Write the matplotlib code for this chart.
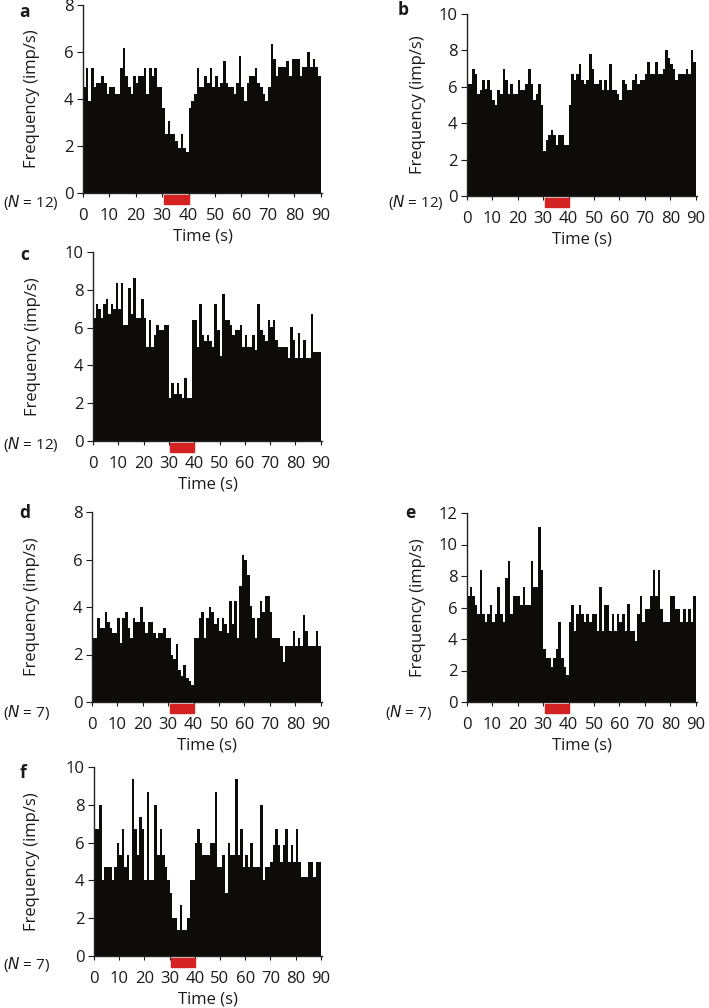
import numpy as np
import matplotlib.pyplot as plt
from matplotlib.patches import Rectangle

plt.rcParams['font.family'] = ['Open Sans', 'DejaVu Sans']

# peri-stimulus histograms, 1 s bins, firing rate in imp/s
bin_width = 1.0
stim_on, stim_off = 30.5, 40.0
time_ticks = list(range(0, 91, 10))

rate_a = [4.5, 5.3, 3.9, 5.3, 4.5, 4.7, 4.7, 5.0, 4.7, 4.2,
          4.5, 4.5, 4.2, 4.2, 5.3, 6.15, 5.0, 4.5, 4.2, 5.0,
          4.7, 5.0, 5.0, 5.3, 4.2, 5.3, 5.0, 5.3, 4.5, 4.5,
          3.6, 2.5, 3.05, 2.5, 2.5, 2.2, 1.9, 2.5, 1.9, 1.75,
          3.6, 3.9, 4.2, 5.3, 4.5, 4.5, 5.0, 4.7, 5.3, 4.5,
          5.0, 4.5, 4.7, 5.6, 4.7, 4.5, 4.5, 4.2, 4.7, 5.85,
          4.5, 3.9, 4.7, 5.0, 5.0, 5.3, 4.7, 4.5, 4.2, 3.9,
          4.5, 6.35, 5.7, 5.0, 5.35, 5.35, 5.35, 5.6, 5.0, 5.7,
          5.7, 5.7, 5.0, 5.35, 5.35, 6.0, 5.35, 5.7, 5.35, 5.0]

rate_b = [6.15, 6.15, 7.0, 6.7, 5.6, 5.85, 6.4, 5.9, 6.4, 5.85,
          5.3, 5.0, 5.85, 5.6, 7.0, 6.4, 5.6, 6.15, 5.6, 5.6,
          6.4, 5.85, 5.85, 6.15, 7.0, 6.15, 5.3, 5.6, 6.15, 5.0,
          2.5, 3.05, 3.35, 3.6, 3.35, 2.8, 3.35, 3.35, 2.8, 2.8,
          5.0, 6.7, 6.4, 6.7, 7.25, 6.4, 6.15, 6.4, 7.8, 7.0,
          6.15, 6.15, 6.4, 5.85, 6.4, 5.85, 7.25, 5.85, 5.85, 5.6,
          5.3, 6.4, 6.15, 5.85, 5.85, 6.4, 6.7, 6.15, 6.4, 6.4,
          6.7, 7.35, 6.7, 6.7, 7.35, 6.7, 6.7, 7.0, 8.0, 7.6,
          7.25, 7.0, 6.4, 6.7, 6.7, 6.7, 7.0, 6.7, 8.0, 7.35]

rate_c = [6.5, 7.25, 7.0, 6.5, 7.25, 7.5, 6.7, 7.25, 7.0, 8.35,
          7.0, 8.35, 6.15, 6.15, 8.1, 6.7, 8.6, 6.5, 6.5, 7.5,
          6.5, 5.0, 6.4, 5.0, 5.6, 6.15, 5.85, 5.85, 6.15, 6.15,
          2.3, 3.05, 2.5, 3.05, 2.5, 2.3, 3.35, 2.3, 2.3, 6.4,
          6.4, 5.0, 7.25, 5.6, 5.3, 5.6, 5.3, 5.0, 7.25, 5.85,
          4.5, 7.8, 6.4, 6.4, 6.15, 5.6, 5.85, 5.85, 6.15, 5.0,
          5.6, 5.0, 5.0, 5.6, 4.8, 7.25, 5.85, 5.6, 5.3, 6.4,
          6.05, 6.4, 5.35, 5.0, 5.0, 5.0, 5.0, 4.4, 6.05, 5.35,
          4.4, 5.7, 4.4, 5.35, 4.4, 4.4, 6.7, 4.7, 4.7, 4.7]

rate_d = [2.7, 2.7, 3.55, 3.1, 3.1, 3.8, 3.35, 3.1, 2.9, 2.9,
          3.55, 2.5, 3.55, 3.8, 3.1, 2.7, 3.55, 3.35, 3.35, 4.0,
          3.35, 2.9, 3.35, 3.35, 2.9, 2.7, 2.9, 2.9, 3.1, 2.7,
          2.7, 2.0, 1.8, 2.45, 1.35, 1.1, 1.55, 1.0, 0.9, 0.7,
          2.7, 2.7, 3.55, 3.8, 2.7, 3.55, 4.0, 3.8, 3.3, 3.55,
          3.0, 3.55, 3.3, 2.9, 4.25, 3.3, 4.25, 2.7, 4.9, 6.2,
          6.0, 5.35, 4.05, 3.55, 2.7, 3.55, 4.25, 3.8, 4.45, 4.45,
          3.8, 2.7, 2.7, 2.7, 2.35, 1.7, 2.35, 2.35, 2.35, 3.0,
          2.35, 2.7, 2.35, 3.65, 3.0, 2.35, 2.35, 2.35, 3.0, 2.35]

rate_e = [6.7, 7.3, 6.7, 6.15, 5.6, 8.4, 5.6, 5.1, 5.6, 6.15,
          5.1, 5.6, 7.3, 5.6, 5.1, 7.85, 8.95, 5.6, 6.7, 6.7,
          6.7, 6.15, 7.3, 6.15, 6.15, 8.95, 7.3, 7.3, 11.1, 8.4,
          3.35, 2.8, 2.8, 2.2, 2.8, 3.35, 5.05, 2.8, 2.2, 1.7,
          5.05, 6.15, 4.5, 5.6, 6.15, 5.6, 5.05, 5.6, 5.05, 5.6,
          5.6, 4.5, 7.3, 4.5, 6.15, 6.15, 4.5, 5.6, 4.5, 5.6,
          5.05, 5.6, 4.5, 6.2, 4.5, 4.5, 3.9, 5.6, 6.7, 5.05,
          5.9, 5.9, 6.7, 8.4, 6.7, 8.4, 5.9, 5.05, 5.05, 5.05,
          6.7, 6.7, 5.9, 5.9, 5.05, 5.9, 5.05, 5.9, 5.05, 6.7]

rate_f = [6.7, 6.7, 8.0, 4.0, 4.7, 4.7, 4.7, 4.0, 4.7, 6.0,
          5.35, 6.7, 4.7, 5.35, 4.0, 9.35, 6.7, 5.35, 7.35, 6.7,
          4.0, 8.7, 4.0, 4.0, 8.0, 5.35, 6.7, 5.35, 4.7, 4.0,
          3.35, 2.0, 2.0, 1.35, 2.7, 1.35, 1.35, 2.0, 4.0, 4.0,
          6.0, 6.7, 6.0, 5.35, 5.35, 5.35, 6.0, 6.0, 8.7, 4.7,
          4.7, 5.35, 3.35, 6.0, 5.35, 5.35, 9.35, 5.35, 6.7, 4.7,
          5.35, 4.7, 6.0, 4.7, 4.7, 4.7, 8.0, 4.0, 4.7, 4.7,
          5.0, 5.85, 6.7, 5.85, 5.0, 5.85, 6.7, 5.0, 5.85, 5.0,
          6.7, 5.0, 4.2, 4.2, 4.2, 5.0, 5.0, 4.2, 5.0, 5.0]

letters = ['a', 'b', 'c', 'd', 'e', 'f']
rates = [rate_a, rate_b, rate_c, rate_d, rate_e, rate_f]
y_max = [8, 10, 10, 8, 12, 10]
n_cells = [12, 12, 12, 7, 7, 7]

W, H = 709, 1008
fig = plt.figure(figsize=(W / 100, H / 100), dpi=100)

# pixel boxes: left, top, right, bottom (of the 0..90 / 0..ymax area)
boxes = [(83, 5, 322, 193),
         (467, 14, 697, 196),
         (93, 252, 322, 441),
         (92, 512, 322, 702),
         (467, 513, 697, 702),
         (94, 767, 322, 956)]
ylabel_x = [32, 418, 33, 32, 418, 32]
letter_pos = [(24, 12), (403, 10), (25, 255), (25, 513), (410, 513), (23, 773)]
n_pos = [(3, 202), (388, 203), (3, 444), (3, 712), (385, 712), (3, 965)]

black = '#0e0c09'
textc = '#1a1a1a'

for i in range(6):
    l, t, r, b = boxes[i]
    ax = fig.add_axes([l / W, 1 - b / H, (r - l) / W, (b - t) / H])
    vals = np.array(rates[i])
    edges = np.arange(len(vals)) * bin_width
    ax.bar(edges, vals, width=bin_width, align='edge', color=black,
           linewidth=0, zorder=2)
    ax.set_xlim(0, 90.5)
    ax.set_ylim(0, y_max[i])
    ax.set_xticks(time_ticks)
    ax.set_yticks(np.arange(0, y_max[i] + 1, 2))
    for s in ['top', 'right']:
        ax.spines[s].set_visible(False)
    for s in ['left', 'bottom']:
        ax.spines[s].set_linewidth(1.0)
        ax.spines[s].set_color('#222222')
    ax.tick_params(axis='x', direction='out', length=3, pad=8,
                   labelsize=12, colors=textc)
    ax.tick_params(axis='y', direction='out', length=4, pad=3,
                   labelsize=12, colors=textc)
    ax.set_xlabel('Time (s)', fontsize=12, color=textc, labelpad=3)
    ax.set_ylabel('Frequency (imp/s)', fontsize=12, color=textc)
    # label anchor is its right edge; shift so the text is centred on ylabel_x
    ax.yaxis.set_label_coords((ylabel_x[i] + 8 - l) / (r - l), 0.5)

    # stimulus bar below the time axis
    hpx = b - t
    ax.add_patch(Rectangle((stim_on, -10.5 / hpx), stim_off - stim_on, 8.5 / hpx,
                           transform=ax.get_xaxis_transform(),
                           color='#d42222', clip_on=False, zorder=3))

    lx, ly = letter_pos[i]
    fig.text(lx / W, 1 - ly / H, letters[i], fontsize=12.5, fontweight='bold',
             ha='center', va='center', color=textc)
    nx, ny = n_pos[i]
    fig.text(nx / W, 1 - ny / H, '($\\it{N}$ = %d)' % n_cells[i], fontsize=11,
             ha='left', va='center', color=textc)

fig.savefig('out.png', dpi=100)
